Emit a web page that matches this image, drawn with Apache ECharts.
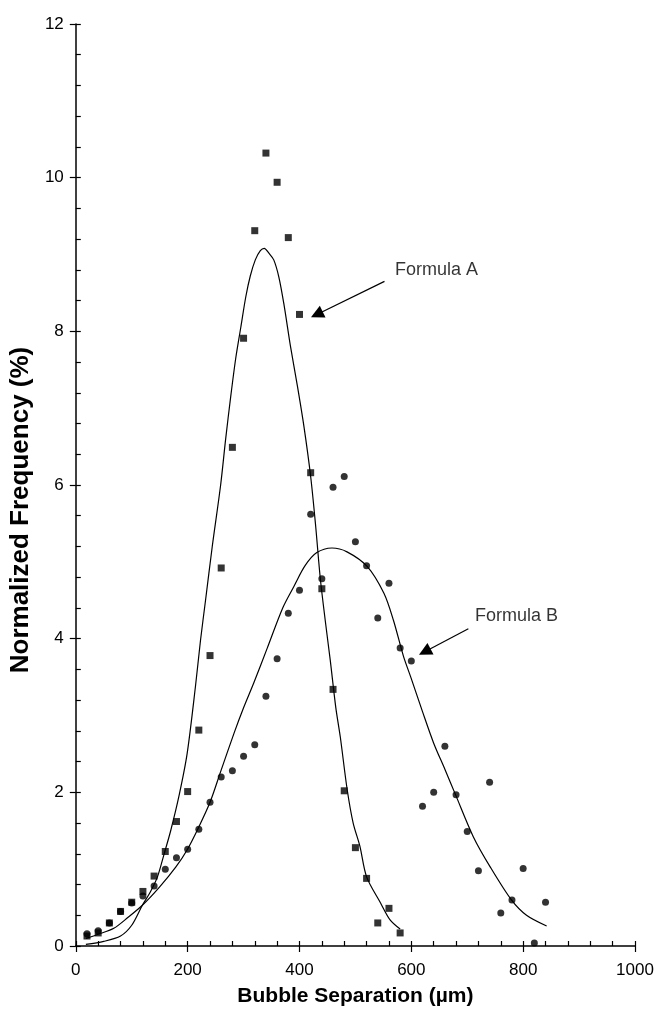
<!DOCTYPE html>
<html>
<head>
<meta charset="utf-8">
<script src="https://cdn.jsdelivr.net/npm/echarts@6/dist/echarts.min.js"></script>
<style>
  html, body { margin: 0; padding: 0; background: #fff; }
  #chart { width: 657px; height: 1014px; }
</style>
</head>
<body>
<div id="chart"></div>
<script>
// measured points, square markers (x = 20..580 um)
const squareX = [20, 40, 60, 80, 100, 120, 140, 160, 180, 200, 220, 240, 260, 280, 300, 320, 340, 360, 380, 400, 420, 440, 460, 480, 500, 520, 540, 560, 580];
const squareY = [0.13, 0.17, 0.30, 0.45, 0.57, 0.71, 0.91, 1.23, 1.62, 2.01, 2.81, 3.78, 4.92, 6.49, 7.91, 9.31, 10.32, 9.94, 9.22, 8.22, 6.16, 4.65, 3.34, 2.02, 1.28, 0.88, 0.30, 0.49, 0.17];

// measured points, round markers (x = 20..840 um)
const circleX = [20, 40, 60, 80, 100, 120, 140, 160, 180, 200, 220, 240, 260, 280, 300, 320, 340, 360, 380, 400, 420, 440, 460, 480, 500, 520, 540, 560, 580, 600, 620, 640, 660, 680, 700, 720, 740, 760, 780, 800, 820, 840];
const circleY = [0.16, 0.20, 0.30, 0.45, 0.56, 0.65, 0.78, 1.00, 1.15, 1.26, 1.52, 1.87, 2.20, 2.28, 2.47, 2.62, 3.25, 3.74, 4.33, 4.63, 5.62, 4.78, 5.97, 6.11, 5.26, 4.95, 4.27, 4.72, 3.88, 3.71, 1.82, 2.00, 2.60, 1.97, 1.49, 0.98, 2.13, 0.43, 0.60, 1.01, 0.04, 0.57];

// fitted curves
const formulaA = [[18, 0.02], [50, 0.06], [80, 0.13], [100, 0.27], [119, 0.53], [133, 0.70], [146, 0.90], [158, 1.2], [170, 1.51], [185, 1.97], [199, 2.5], [214, 3.38], [223, 3.98], [232, 4.5], [244, 5.2], [259, 6.0], [268, 6.6], [277, 7.15], [286, 7.65], [295, 8.05], [304, 8.45], [312, 8.72], [321, 8.93], [330, 9.05], [337, 9.08], [345, 9.02], [354, 8.93], [363, 8.71], [372, 8.36], [384, 7.8], [396, 7.3], [408, 6.76], [420, 6.11], [429, 5.46], [437, 4.8], [446, 4.24], [455, 3.72], [465, 3.1], [473, 2.72], [485, 2.05], [496, 1.6], [508, 1.3], [520, 0.9], [545, 0.56], [562, 0.34], [580, 0.22]];
const formulaB = [[18, 0.10], [43, 0.16], [68, 0.23], [93, 0.37], [119, 0.53], [150, 0.77], [179, 1.03], [199, 1.25], [220, 1.55], [240, 1.87], [259, 2.27], [283, 2.77], [300, 3.1], [318, 3.42], [342, 3.87], [370, 4.4], [390, 4.68], [410, 4.95], [431, 5.12], [458, 5.18], [485, 5.13], [521, 4.94], [551, 4.59], [568, 4.24], [586, 3.77], [599, 3.5], [620, 3.05], [640, 2.64], [660, 2.3], [679, 1.97], [711, 1.42], [741, 1.03], [779, 0.60], [806, 0.40], [842, 0.26]];

// annotations: label anchor and arrow (from -> to), in data units
const noteNames = ['Formula A', 'Formula B'];
const noteAt = [[571, 8.80], [714, 4.29]];
const arrowFrom = [[552, 8.65], [702, 4.13]];
const arrowTo = [[431, 8.22], [624, 3.83]];

const xTicks = [0, 1000, 200];
const yTicks = [0, 12, 2];

const font = 'Liberation Sans, Arial, sans-serif';
const black = '#000';

const chart = echarts.init(document.getElementById('chart'));

const zip = (xs, ys) => xs.map((x, i) => [x, ys[i]]);

const baseX = {
    type: 'value', min: xTicks[0], max: xTicks[1], interval: xTicks[2],
    position: 'bottom', splitLine: { show: false }
};
const baseY = {
    type: 'value', min: yTicks[0], max: yTicks[1], interval: yTicks[2],
    position: 'left', splitLine: { show: false }
};

const options = {
    animation: false,
    backgroundColor: '#fff',
    grid: { left: 75, right: 22, top: 24, bottom: 68 },
    xAxis: [{
        ...baseX,
        name: 'Bubble Separation (µm)',
        nameLocation: 'middle',
        nameGap: 40,
        nameTextStyle: { color: black, fontFamily: font, fontWeight: 'bold', fontSize: 21 },
        axisLine: { onZero: false, lineStyle: { color: black, width: 1.5 } },
        axisTick: { inside: false, length: 6, lineStyle: { color: black, width: 1.2 } },
        axisLabel: { color: black, fontFamily: font, fontSize: 17, margin: 16, formatter: v => String(v) }
    }, {
        ...baseX,
        axisLine: { show: false, onZero: false },
        axisLabel: { show: false },
        axisTick: { inside: true, length: 5, lineStyle: { color: black, width: 1.2 } },
        minorTick: { show: true, splitNumber: 5, length: 5, lineStyle: { color: black, width: 1.2 } }
    }],
    yAxis: [{
        ...baseY,
        name: 'Normalized Frequency (%)',
        nameLocation: 'middle',
        nameGap: 40,
        nameTextStyle: { color: black, fontFamily: font, fontWeight: 'bold', fontSize: 26, padding: [0, 50, 0, 0] },
        axisLine: { onZero: false, lineStyle: { color: black, width: 1.5 } },
        axisTick: { inside: false, length: 6, lineStyle: { color: black, width: 1.2 } },
        axisLabel: { color: black, fontFamily: font, fontSize: 17, margin: 12 }
    }, {
        ...baseY,
        axisLine: { show: false, onZero: false },
        axisLabel: { show: false },
        axisTick: { inside: true, length: 5, lineStyle: { color: black, width: 1.2 } },
        minorTick: { show: true, splitNumber: 5, length: 5, lineStyle: { color: black, width: 1.2 } }
    }],
    series: [
        {
            type: 'line', data: formulaA, showSymbol: false, smooth: 0.3,
            lineStyle: { color: black, width: 1.2 }, silent: true,
            markLine: {
                silent: true,
                animation: false,
                symbol: ['none', 'triangle'],
                symbolSize: 13,
                label: { show: false },
                emphasis: { disabled: true },
                lineStyle: { color: black, width: 1.2, type: 'solid' },
                itemStyle: { color: black },
                data: arrowFrom.map((p, i) => [{ coord: p }, { coord: arrowTo[i] }])
            }
        },
        {
            type: 'line', data: formulaB, showSymbol: false, smooth: 0.3,
            lineStyle: { color: black, width: 1.2 }, silent: true
        },
        {
            type: 'scatter', data: zip(squareX, squareY), symbol: 'rect', symbolSize: 7,
            itemStyle: { color: black }, silent: true
        },
        {
            type: 'scatter', data: zip(circleX, circleY), symbol: 'circle', symbolSize: 7,
            itemStyle: { color: black }, silent: true
        },
        {
            type: 'scatter',
            data: noteAt.map((p, i) => ({ value: p, name: noteNames[i] })),
            symbolSize: 0,
            silent: true,
            label: {
                show: true, position: 'right', distance: 0,
                formatter: '{b}', color: black, fontFamily: font, fontSize: 18
            }
        }
    ]
};

chart.setOption(options, { notMerge: true });
</script>
</body>
</html>
